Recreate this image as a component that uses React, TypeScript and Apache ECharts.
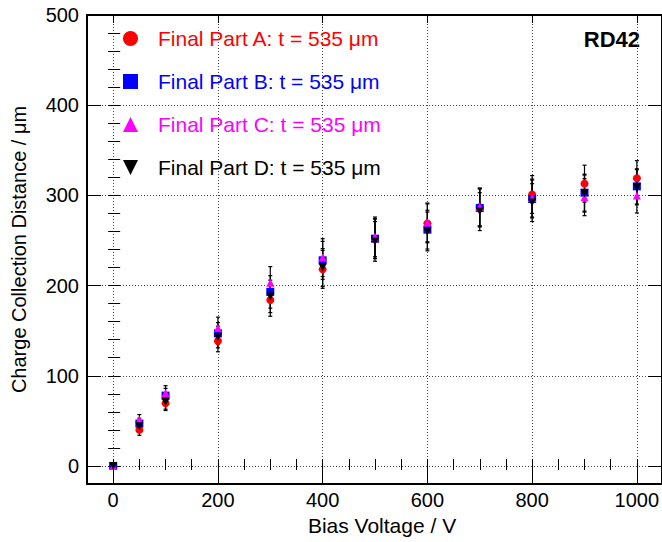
import React, { useEffect, useRef } from "react";
import * as echarts from "echarts";

const biasVoltage = [0, 50, 100, 200, 300, 400, 500, 600, 700, 800, 900, 1000];
const partA = [0, 40, 69.5, 138.6, 184, 218, 252, 269, 287, 301, 313, 319];
const partB = [0, 47, 78, 147, 193, 228, 252, 262, 286, 296, 303, 310];
const partC = [0, 51, 81, 153, 203, 231, 254, 270, 287, 297, 298, 300];
const partD = [0, 44, 71, 143, 188, 220, 249, 260, 282, 292, 302, 309];
const errors = [1, 6, 8, 12, 18, 21, 22, 21.5, 21, 21, 20.5, 19.5];
const xMajorTicks = [0, 200, 400, 600, 800, 1000];
const yMajorTicks = [0, 100, 200, 300, 400, 500];
const seriesNames = [
  "Final Part A: t = 535 \u03bcm",
  "Final Part B: t = 535 \u03bcm",
  "Final Part C: t = 535 \u03bcm",
  "Final Part D: t = 535 \u03bcm",
];
const seriesColors = ["#ff0000", "#0000ff", "#ff00ff", "#000000"];
const downTriangle = "path://M0,0L10,0L5,10Z";
const seriesSymbols = ["circle", "rect", "triangle", downTriangle];
const seriesValues = [partA, partB, partC, partD];

const FONT = "'Liberation Sans', Arial, Helvetica, sans-serif";

export default function App() {
  const ref = useRef<HTMLDivElement>(null);
  useEffect(() => {
    if (!ref.current) return;
    const chart = echarts.init(ref.current, undefined, { renderer: "svg" });
    const xMin = -50;
    const xMax = 1048;
    const yMin = -20;
    const yMax = 500;
    const axisLineStyle = { color: "#000", width: 2 };
    const tickStyle = { color: "#000", width: 1 };
    const plainNum = (v: number) => String(v);

    const xAxes: any[] = [
      {
        type: "value",
        min: xMin,
        max: xMax,
        position: "bottom",
        axisLine: { show: true, onZero: false, lineStyle: axisLineStyle },
        axisTick: { show: true, inside: true, length: 14, customValues: xMajorTicks, lineStyle: tickStyle },
        axisLabel: { show: true, customValues: xMajorTicks, formatter: plainNum, margin: 6, fontSize: 20, color: "#000", fontFamily: FONT },
        splitLine: { show: true, lineStyle: { color: "#444", type: [1, 2], width: 1 } },
        name: "Bias Voltage / V",
        nameLocation: "middle",
        nameGap: 30,
        nameTextStyle: { fontSize: 21, color: "#000", fontFamily: FONT, padding: [0, 0, 0, 15] },
      },
      {
        type: "value",
        min: xMin,
        max: xMax,
        interval: 50,
        position: "bottom",
        axisLine: { show: false },
        axisTick: { show: true, inside: true, length: 7, lineStyle: tickStyle },
        axisLabel: { show: false },
        splitLine: { show: false },
      },
      {
        type: "value",
        min: xMin,
        max: xMax,
        position: "top",
        axisLine: { show: true, onZero: false, lineStyle: axisLineStyle },
        axisTick: { show: true, inside: true, length: 8, customValues: xMajorTicks, lineStyle: tickStyle },
        axisLabel: { show: false },
        splitLine: { show: false },
      },
      {
        type: "value",
        min: xMin,
        max: xMax,
        interval: 50,
        position: "top",
        axisLine: { show: false },
        axisTick: { show: true, inside: true, length: 4, lineStyle: tickStyle },
        axisLabel: { show: false },
        splitLine: { show: false },
      },
    ];

    const yAxes: any[] = [
      {
        type: "value",
        min: yMin,
        max: yMax,
        position: "left",
        axisLine: { show: true, onZero: false, lineStyle: axisLineStyle },
        axisTick: { show: true, inside: true, length: 14, customValues: yMajorTicks, lineStyle: tickStyle },
        axisLabel: { show: true, customValues: yMajorTicks, formatter: plainNum, margin: 8, fontSize: 20, color: "#000", fontFamily: FONT },
        splitLine: { show: true, lineStyle: { color: "#444", type: [1, 2], width: 1 } },
        name: "Charge Collection Distance / \u03bcm",
        nameLocation: "middle",
        nameGap: 58,
        nameTextStyle: { fontSize: 20, color: "#000", fontFamily: FONT },
      },
      {
        type: "value",
        min: yMin,
        max: yMax,
        interval: 20,
        position: "left",
        axisLine: { show: false },
        axisTick: { show: true, inside: true, length: 7, lineStyle: tickStyle },
        axisLabel: { show: false },
        splitLine: { show: false },
      },
      {
        type: "value",
        min: yMin,
        max: yMax,
        position: "right",
        axisLine: { show: true, onZero: false, lineStyle: axisLineStyle },
        axisTick: { show: true, inside: true, length: 14, customValues: yMajorTicks, lineStyle: tickStyle },
        axisLabel: { show: false },
        splitLine: { show: false },
      },
      {
        type: "value",
        min: yMin,
        max: yMax,
        interval: 20,
        position: "right",
        axisLine: { show: false },
        axisTick: { show: true, inside: true, length: 5, lineStyle: tickStyle },
        axisLabel: { show: false },
        splitLine: { show: false },
      },
    ];

    const series: any[] = [];
    seriesValues.forEach((vals, si) => {
      series.push({
        type: "custom",
        name: "err" + si,
        xAxisIndex: 0,
        yAxisIndex: 0,
        silent: true,
        z: 3,
        encode: { x: 0, y: [1, 2] },
        data: biasVoltage.map((x, i) => [x, vals[i] - errors[i], vals[i] + errors[i]]),
        renderItem: (params: any, api: any) => {
          const lo = api.coord([api.value(0), api.value(1)]);
          const hi = api.coord([api.value(0), api.value(2)]);
          const st = { stroke: "#000", lineWidth: 1.2 };
          return {
            type: "group",
            children: [
              { type: "line", shape: { x1: lo[0], y1: lo[1], x2: hi[0], y2: hi[1] }, style: st },
              { type: "line", shape: { x1: lo[0] - 2, y1: lo[1], x2: lo[0] + 2, y2: lo[1] }, style: st },
              { type: "line", shape: { x1: hi[0] - 2, y1: hi[1], x2: hi[0] + 2, y2: hi[1] }, style: st },
            ],
          };
        },
      });
      series.push({
        type: "scatter",
        name: seriesNames[si],
        xAxisIndex: 0,
        yAxisIndex: 0,
        z: 3,
        symbol: seriesSymbols[si],
        symbolSize: 8,
        itemStyle: { color: seriesColors[si], opacity: 1 },
        data: biasVoltage.map((x, i) => [x, vals[i]]),
      });
    });

    chart.setOption({
      animation: false,
      backgroundColor: "#fff",
      grid: { left: 87, right: 0, top: 15, bottom: 58, containLabel: false, outerBoundsMode: "none" },
      xAxis: xAxes,
      yAxis: yAxes,
      legend: {
        orient: "vertical",
        left: 123,
        top: 28,
        padding: 0,
        itemWidth: 15,
        itemHeight: 15,
        itemGap: 22,
        selectedMode: false,
        textStyle: { fontSize: 21, fontFamily: FONT, lineHeight: 15, padding: [0, 0, 0, 15] },
        data: seriesNames.map((name, i) => ({
          name,
          icon: seriesSymbols[i],
          itemStyle: { color: seriesColors[i] },
          textStyle: { color: seriesColors[i] },
        })),
      },
      graphic: [
        {
          type: "text",
          right: 22,
          top: 28,
          style: { text: "RD42", font: "bold 22px " + FONT, fill: "#000" },
        },
      ],
      series,
    });
    return () => chart.dispose();
  }, []);
  return <div ref={ref} style={{ position: "fixed", left: 0, top: 0, width: 662, height: 542 }} />;
}
